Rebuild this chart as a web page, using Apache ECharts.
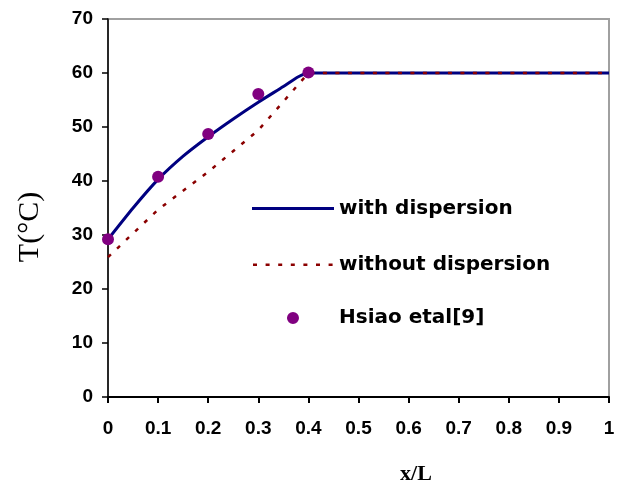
<!DOCTYPE html>
<html>
<head>
<meta charset="utf-8">
<script src="https://cdn.jsdelivr.net/npm/echarts@6/dist/echarts.min.js"></script>
<style>
  html, body { margin: 0; padding: 0; background: #fff; }
  #chart { width: 621px; height: 481px; }
</style>
</head>
<body>
<div id="chart"></div>
<script>
// 温度分布 T vs x/L
var xWith   = [0, 0.05, 0.1, 0.15, 0.2, 0.25, 0.3, 0.35, 0.38, 0.4, 1];
var tWith   = [29.2, 35.0, 40.3, 44.6, 48.2, 51.5, 54.6, 57.5, 59.3, 60, 60];
var xWithout = [0, 0.1, 0.2, 0.3, 0.4, 1];
var tWithout = [25.9, 34.7, 41.7, 49.4, 60, 60];
var xHsiao  = [0, 0.1, 0.2, 0.3, 0.4];
var tHsiao  = [29.2, 40.8, 48.7, 56.1, 60.1];
var names   = ['with dispersion', 'without dispersion', 'Hsiao etal[9]'];

function pairs(xs, ys) {
    return xs.map(function (x, i) { return [x, ys[i]]; });
}

// legend icons: solid line, dotted line, dot centred in an 82px box
var iconSolid = 'path://M0,0H82V3H0Z';
var dots = '';
for (var k = 0; k < 7; k++) {
    var x0 = 1 + k * 12.6;
    dots += 'M' + x0 + ',0H' + (x0 + 4) + 'V2.5H' + x0 + 'Z';
}
var iconDotted = 'path://M0,0H0.01V0.01Z' + dots + 'M82,0H82.01V0.01Z';
var iconDot = 'path://M0,6H0.01V6.01Z M35,6A6,6 0 1,0 47,6A6,6 0 1,0 35,6Z M82,6H82.01V6.01Z';

function oneLegend(name, icon, h, top) {
    return {
        data: [{ name: name, icon: icon }],
        orient: 'vertical',
        left: 252,
        top: top,
        padding: 0,
        itemWidth: 82,
        itemHeight: h,
        itemGap: 5,
        selectedMode: false,
        textStyle: {
            fontFamily: 'DejaVu Sans',
            fontWeight: 'bold',
            fontSize: 20,
            color: '#000'
        }
    };
}

var option = {
    animation: false,
    backgroundColor: '#fff',
    grid: {
        left: 108,
        right: 12,
        top: 19,
        bottom: 84,
        show: true,
        borderColor: '#a0a0a0',
        borderWidth: 2
    },
    legend: [
        oneLegend(names[0], iconSolid, 3, 198.5),
        oneLegend(names[1], iconDotted, 2.5, 254.7),
        oneLegend(names[2], iconDot, 12, 308)
    ],
    xAxis: {
        type: 'value',
        min: 0,
        max: 1,
        interval: 0.1,
        axisLine: { onZero: false, lineStyle: { color: '#000', width: 2 } },
        axisTick: { show: true, length: 6, lineStyle: { color: '#000', width: 2 } },
        splitLine: { show: false },
        axisLabel: {
            margin: 22,
            color: '#000',
            fontFamily: 'Liberation Sans',
            fontWeight: 'bold',
            fontSize: 19,
            formatter: function (v) { return String(Math.round(v * 10) / 10); }
        }
    },
    yAxis: {
        type: 'value',
        min: 0,
        max: 70,
        interval: 10,
        axisLine: { show: true, onZero: false, lineStyle: { color: '#000', width: 1.5 } },
        axisTick: { show: true, length: 6, lineStyle: { color: '#000', width: 1.5 } },
        splitLine: { show: false },
        axisLabel: {
            margin: 15,
            color: '#000',
            fontFamily: 'Liberation Sans',
            fontWeight: 'bold',
            fontSize: 19
        }
    },
    graphic: [
        {
            type: 'text',
            x: 416,
            y: 474,
            style: {
                text: 'x/L',
                font: 'bold 22px "Liberation Serif"',
                fill: '#000',
                align: 'center',
                verticalAlign: 'middle'
            }
        },
        {
            type: 'text',
            x: 30,
            y: 227,
            rotation: Math.PI / 2,
            style: {
                text: 'T(°C)',
                font: '30px "Liberation Serif"',
                fill: '#000',
                align: 'center',
                verticalAlign: 'middle'
            }
        }
    ],
    series: [
        {
            name: names[0],
            type: 'line',
            data: pairs(xWith, tWith),
            symbol: 'none',
            smooth: 0.2,
            color: '#000080',
            lineStyle: { color: '#000080', width: 3 },
            z: 2
        },
        {
            name: names[1],
            type: 'line',
            data: pairs(xWithout, tWithout),
            symbol: 'none',
            color: '#8b0000',
            lineStyle: { color: '#8b0000', width: 2.5, type: [4, 8.5] },
            z: 3
        },
        {
            name: names[2],
            type: 'scatter',
            data: pairs(xHsiao, tHsiao),
            symbol: 'circle',
            symbolSize: 12,
            itemStyle: { color: '#800080', opacity: 1 },
            z: 4
        }
    ]
};

var myChart = echarts.init(document.getElementById('chart'));
myChart.setOption(option);
</script>
</body>
</html>
